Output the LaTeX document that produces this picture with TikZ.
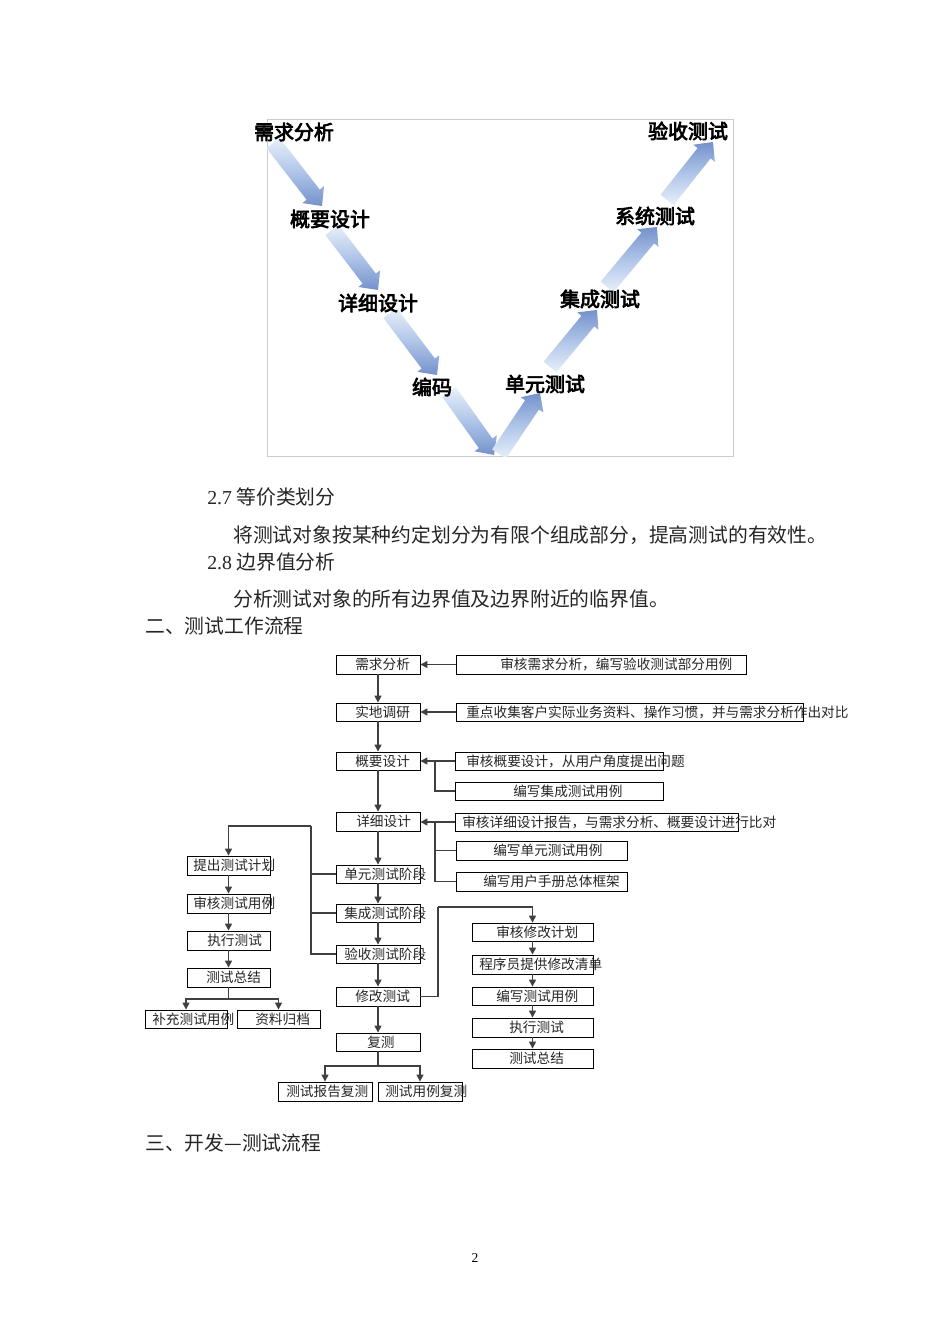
\documentclass[tikz,border=0pt]{standalone}
\usepackage{fontspec}
\setmainfont{Noto Sans CJK SC}
\newfontfamily\cjkb[FakeBold=3.5]{Noto Sans CJK SC}
\newfontfamily\lat{Liberation Serif}
\usetikzlibrary{arrows.meta,calc}

\definecolor{vlight}{HTML}{E8F0FA}
\definecolor{vmid}{HTML}{AFC5E8}
\definecolor{vdark}{HTML}{7491CB}

\tikzset{
 box/.style={draw=black, line width=0.55pt, inner sep=0pt},
 ft/.style={font=\fontsize{8.55}{9}\selectfont, inner sep=0pt, anchor=west, text=black!85},
 ln/.style={draw=black!75, line width=0.85pt},
 arr/.style={ln, -{Triangle[length=4.4pt,width=4.4pt]}},
 vl/.style={font=\cjkb\fontsize{12.5}{14}\selectfont, inner sep=0pt},
 body/.style={font=\fontsize{12.4}{14}\selectfont, inner sep=0pt, anchor=west, text=black!85},
 downarrow/.style={top color=vlight, bottom color=vdark, middle color=vmid},
 uparrow/.style={bottom color=vlight, top color=vdark, middle color=vmid},
}

\newcommand\bx[5]{\node[box, minimum width={(#4-#2)*0.6264pt}, minimum height={(#5-#3)*0.6264pt}] (#1) at ({(#2+#4)/2},{(#3+#5)/2}) {};}
\newcommand\varrow[3]{%
 \coordinate (hh) at ($(#2)!9pt!(#1)$);
 \shade[#3] ($(#1)!5.2pt!-90:(#2)$) -- ($(hh)!5.2pt!90:(#1)$) -- ($(hh)!8.6pt!90:(#1)$) -- (#2)
   -- ($(hh)!8.6pt!-90:(#1)$) -- ($(hh)!5.2pt!-90:(#1)$) -- ($(#1)!5.2pt!90:(#2)$) -- cycle;}

\begin{document}
\begin{tikzpicture}[x=0.6264pt, y=-0.6264pt]
\useasboundingbox[fill=white] (0,0) rectangle (950,1344);

% ---------- V model ----------
\draw[black!20, line width=0.6pt] (267,119) rectangle (733,456);
\coordinate (a1) at (273,143); \coordinate (b1) at (322,206);
\coordinate (a2) at (332,230); \coordinate (b2) at (378,290);
\coordinate (a3) at (390,313); \coordinate (b3) at (437,375);
\coordinate (a4) at (449,392); \coordinate (b4) at (494,455);
\coordinate (a5) at (499,454); \coordinate (b5) at (540,393);
\coordinate (a6) at (550,367); \coordinate (b6) at (597,310);
\coordinate (a7) at (607,287); \coordinate (b7) at (657,227);
\coordinate (a8) at (667,200); \coordinate (b8) at (713,142);
\begin{scope}
\clip (267,100) rectangle (733,456);
\varrow{a1}{b1}{downarrow}
\varrow{a2}{b2}{downarrow}
\varrow{a3}{b3}{downarrow}
\varrow{a4}{b4}{downarrow}
\varrow{a5}{b5}{uparrow}
\varrow{a6}{b6}{uparrow}
\varrow{a7}{b7}{uparrow}
\varrow{a8}{b8}{uparrow}
\end{scope}
\node[vl] (v1) at (294,132) {需求分析};
\node[vl] (v2) at (330,219) {概要设计};
\node[vl] (v3) at (378,303) {详细设计};
\node[vl] (v4) at (432,387) {编码};
\node[vl] (v5) at (545,384) {单元测试};
\node[vl] (v6) at (600,299) {集成测试};
\node[vl] (v7) at (655,216) {系统测试};
\node[vl] (v8) at (688,131) {验收测试};

% ---------- body text ----------
\node[body] (t27) at (207,497) {{\lat 2.7} 等价类划分};
\node[body] (tb1) at (233,535) {将测试对象按某种约定划分为有限个组成部分，提高测试的有效性。};
\node[body] (t28) at (207,562) {{\lat 2.8} 边界值分析};
\node[body] (tb2) at (233,599) {分析测试对象的所有边界值及边界附近的临界值。};
\node[body] (th2) at (145,626) {二、测试工作流程};
\node[body] (th3) at (145,1143) {三、开发—测试流程};
\node[inner sep=0pt, font=\lat\fontsize{8.5}{9}\selectfont] (pg) at (475,1258) {2};

% ---------- flowchart boxes ----------
\bx{n1}{336}{655}{420}{674}
\bx{r1}{456}{655}{746}{674}
\bx{n2}{336}{703}{420}{721}
\bx{r2}{456}{703}{803}{721}
\bx{n3}{336}{752}{420}{770}
\bx{r3}{455}{752}{663}{770}
\bx{r4}{455}{782}{663}{800}
\bx{n4}{336}{812}{420}{831}
\bx{r5}{455}{813}{738}{831}
\bx{r6}{456}{841}{627}{860}
\bx{r7}{456}{872}{627}{891}
\bx{s1}{336}{865}{420}{883}
\bx{s2}{336}{904}{420}{922}
\bx{s3}{336}{945}{420}{963}
\bx{l1}{187}{856}{270}{875}
\bx{l2}{187}{894}{270}{913}
\bx{l3}{187}{931}{270}{950}
\bx{l4}{187}{968}{270}{987}
\bx{l5}{145}{1010}{227}{1028}
\bx{l6}{237}{1010}{320}{1028}
\bx{m1}{336}{987}{420}{1006}
\bx{m2}{336}{1033}{420}{1051}
\bx{m3}{278}{1082}{372}{1101}
\bx{m4}{378}{1082}{462}{1101}
\bx{k1}{472}{923}{593}{941}
\bx{k2}{472}{955}{593}{974}
\bx{k3}{472}{987}{593}{1005}
\bx{k4}{472}{1018}{593}{1037}
\bx{k5}{472}{1049}{593}{1068}

% ---------- flowchart texts ----------
\node[ft] (tn1) at (355,664.5) {需求分析};
\node[ft] (tr1) at (500,664.5) {审核需求分析，编写验收测试部分用例};
\node[ft] (tn2) at (355,712) {实地调研};
\node[ft] (tr2) at (466,712) {重点收集客户实际业务资料、操作习惯，并与需求分析作出对比};
\node[ft] (tn3) at (355,761) {概要设计};
\node[ft] (tr3) at (466,761) {审核概要设计，从用户角度提出问题};
\node[ft] (tr4) at (513,791) {编写集成测试用例};
\node[ft] (tn4) at (356,821.5) {详细设计};
\node[ft] (tr5) at (462,822) {审核详细设计报告，与需求分析、概要设计进行比对};
\node[ft] (tr6) at (493,850.5) {编写单元测试用例};
\node[ft] (tr7) at (483,881.5) {编写用户手册总体框架};
\node[ft] (ts1) at (344,874) {单元测试阶段};
\node[ft] (ts2) at (344,913) {集成测试阶段};
\node[ft] (ts3) at (344,954) {验收测试阶段};
\node[ft] (tl1) at (193,865.5) {提出测试计划};
\node[ft] (tl2) at (193,903.5) {审核测试用例};
\node[ft] (tl3) at (207,940.5) {执行测试};
\node[ft] (tl4) at (206,977.5) {测试总结};
\node[ft] (tl5) at (152,1019) {补充测试用例};
\node[ft] (tl6) at (255,1019) {资料归档};
\node[ft] (tm1) at (355,996.5) {修改测试};
\node[ft] (tm2) at (367,1042) {复测};
\node[ft] (tm3) at (286,1091.5) {测试报告复测};
\node[ft] (tm4) at (385,1091.5) {测试用例复测};
\node[ft] (tk1) at (496,932) {审核修改计划};
\node[ft] (tk2) at (479,964.5) {程序员提供修改清单};
\node[ft] (tk3) at (496,996) {编写测试用例};
\node[ft] (tk4) at (509,1027.5) {执行测试};
\node[ft] (tk5) at (509,1058.5) {测试总结};

% ---------- connectors ----------
\coordinate (j3) at (435,761);
\coordinate (j4) at (435,822);
\coordinate (jL) at (311,826);
\coordinate (jl4) at (228.5,999);
\coordinate (jk) at (438,907);
\coordinate (jm) at (378,1066);

\draw[arr] (r1.west) -- (n1.east);
\draw[arr] (r2.west) -- (n2.east);
\draw[arr] (r3.west) -- (n3.east);
\draw[ln] (r4.west) -| (j3);
\draw[arr] (r5.west) -- (r5.west -| n4.east);
\draw[ln] (r6.west) -| (j4);
\draw[ln] (r7.west) -| (j4);

\draw[arr] (n1.south) -- (n2.north);
\draw[arr] (n2.south) -- (n3.north);
\draw[arr] (n3.south) -- (n4.north);
\draw[arr] (n4.south) -- (s1.north);
\draw[arr] (s1.south) -- (s2.north);
\draw[arr] (s2.south) -- (s3.north);
\draw[arr] (s3.south) -- (m1.north);
\draw[arr] (m1.south) -- (m2.north);

\draw[ln] (s1.west) -| (jL);
\draw[ln] (s2.west) -| (jL);
\draw[ln] (s3.west) -| (jL);
\draw[arr] (jL) -| (l1.north);
\draw[arr] (l1.south) -- (l2.north);
\draw[arr] (l2.south) -- (l3.north);
\draw[arr] (l3.south) -- (l4.north);
\draw[ln] (l4.south) -- (jl4);
\draw[arr] (jl4) -| (l5.north);
\draw[arr] (jl4) -| (l6.north);

\draw[ln] (m1.east) -| (jk);
\draw[arr] (jk) -| (k1.north);
\draw[arr] (k1.south) -- (k2.north);
\draw[arr] (k2.south) -- (k3.north);
\draw[arr] (k3.south) -- (k4.north);
\draw[arr] (k4.south) -- (k5.north);

\draw[ln] (m2.south) -- (jm);
\draw[arr] (jm) -| (m3.north);
\draw[arr] (jm) -| (m4.north);
\end{tikzpicture}
\end{document}
